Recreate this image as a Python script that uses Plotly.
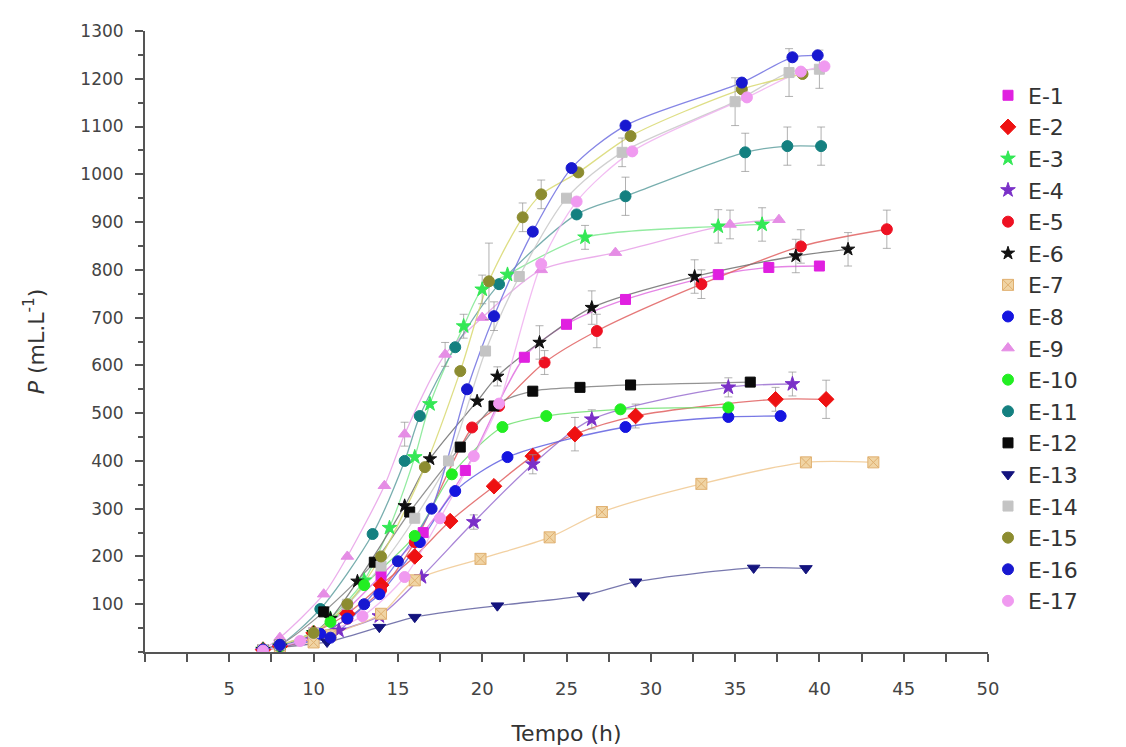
import plotly.graph_objects as go

names = ["E-1", "E-2", "E-3", "E-4", "E-5", "E-6", "E-7", "E-8", "E-9",
         "E-10", "E-11", "E-12", "E-13", "E-14", "E-15", "E-16", "E-17"]

t_e1 = [7, 8, 10, 12, 14, 16.5, 19, 22.5, 25, 28.5, 34, 37, 40]
p_e1 = [5, 10, 40, 90, 160, 250, 380, 617, 686, 738, 790, 805, 808]
t_e2 = [7, 8, 10, 12, 14, 16, 18.1, 20.7, 23, 25.5, 29.1, 37.4, 40.4]
p_e2 = [5, 12, 40, 80, 140, 200, 274, 347, 410, 456, 494, 529, 529]
t_e3 = [7, 8, 10, 11, 13, 14.5, 16, 16.9, 18.9, 20, 21.5, 26.1, 34, 36.6]
p_e3 = [5, 12, 40, 70, 150, 260, 408, 519, 682, 759, 790, 868, 891, 895]
t_e4 = [7, 8, 10, 11.5, 13.9, 16.4, 19.5, 23, 26.5, 34.6, 38.4]
p_e4 = [3, 10, 25, 45, 75, 157, 272, 393, 487, 554, 561]
t_e5 = [7, 8, 10, 12, 14, 16, 19.4, 21, 23.7, 26.8, 33, 38.9, 44]
p_e5 = [5, 10, 30, 70, 130, 230, 470, 515, 606, 672, 770, 849, 885]
t_e6 = [7, 8, 10, 11, 12.6, 15.4, 16.9, 19.7, 20.9, 23.4, 26.5, 32.6, 38.6, 41.7]
p_e6 = [5, 12, 40, 70, 148, 306, 404, 525, 577, 648, 721, 786, 829, 843]
t_e7 = [7, 8, 10, 11, 14, 16, 19.9, 24, 27.1, 33, 39.2, 43.2]
p_e7 = [3, 8, 20, 35, 80, 150, 195, 240, 293, 352, 397, 397]
t_e8 = [7, 8, 10.4, 12, 13.9, 16.3, 18.4, 21.5, 28.5, 34.6, 37.7]
p_e8 = [5, 15, 38, 70, 121, 230, 337, 408, 471, 492, 494]
t_e9 = [7, 8, 10.6, 12, 14.2, 15.4, 17.8, 20, 23.5, 27.9, 34.7, 37.6]
p_e9 = [5, 30, 121, 200, 348, 456, 623, 700, 800, 836, 895, 905]
t_e10 = [7, 8, 11, 13, 16, 18.2, 21.2, 23.8, 28.2, 34.6]
p_e10 = [5, 12, 63, 140, 243, 372, 471, 494, 508, 512]
t_e11 = [7, 8, 10.4, 13.5, 15.4, 16.3, 18.4, 21, 25.6, 28.5, 35.6, 38.1, 40.1]
p_e11 = [5, 15, 90, 247, 400, 494, 638, 770, 916, 954, 1046, 1059, 1059]
t_e12 = [7, 8, 10.6, 13.6, 15.7, 18.7, 20.7, 23, 25.8, 28.8, 35.9]
p_e12 = [5, 15, 84, 188, 293, 429, 515, 546, 554, 559, 565]
t_e13 = [8, 10.8, 13.9, 16, 20.9, 26, 29.1, 36.1, 39.2]
p_e13 = [10, 21, 52, 73, 97, 118, 147, 176, 175]
t_e14 = [7, 8, 10, 12, 14, 16, 18, 20.2, 22.2, 25, 28.3, 35, 38.2, 40]
p_e14 = [5, 15, 40, 100, 180, 280, 400, 630, 786, 950, 1046, 1152, 1213, 1220]
t_e15 = [7, 8, 10, 12, 14, 16.6, 18.7, 20.4, 22.4, 23.5, 25.7, 28.8, 35.4, 39]
p_e15 = [5, 15, 40, 100, 200, 387, 588, 776, 910, 958, 1004, 1080, 1178, 1210]
t_e16 = [7, 8, 11, 13, 15, 17, 19.1, 20.7, 23, 25.3, 28.5, 35.4, 38.4, 39.9]
p_e16 = [5, 15, 30, 100, 190, 300, 550, 703, 880, 1013, 1102, 1192, 1245, 1249]
t_e17 = [7, 9.2, 12.9, 15.4, 17.5, 19.5, 21, 23.5, 25.6, 28.9, 35.7, 38.9, 40.3]
p_e17 = [3, 23, 75, 157, 280, 410, 520, 812, 943, 1048, 1161, 1215, 1226]

err_e2 = [0, 0, 0, 0, 0, 0, 0, 0, 0, 35, 25, 25, 40]
err_e3 = [0, 0, 0, 0, 0, 0, 0, 0, 25, 30, 0, 25, 35, 35]
err_e4 = [0, 0, 0, 0, 0, 0, 15, 20, 20, 20, 25]
err_e5 = [0, 0, 0, 0, 0, 0, 0, 0, 25, 35, 30, 35, 40]
err_e6 = [0, 0, 0, 0, 0, 0, 0, 0, 20, 35, 35, 35, 35, 35]
err_e9 = [0, 0, 0, 0, 0, 25, 25, 0, 0, 0, 30, 0]
err_e11 = [0, 0, 0, 0, 0, 0, 0, 0, 0, 40, 40, 40, 40]
err_e14 = [0, 0, 0, 0, 0, 0, 0, 0, 0, 0, 30, 50, 50, 40]
err_e15 = [0, 0, 0, 0, 0, 0, 0, 80, 30, 30, 0, 0, 0, 0]
err_e16 = [0, 0, 0, 0, 0, 0, 0, 30, 0, 0, 0, 0, 0, 0]

times = [t_e1, t_e2, t_e3, t_e4, t_e5, t_e6, t_e7, t_e8, t_e9, t_e10, t_e11,
         t_e12, t_e13, t_e14, t_e15, t_e16, t_e17]
prods = [p_e1, p_e2, p_e3, p_e4, p_e5, p_e6, p_e7, p_e8, p_e9, p_e10, p_e11,
         p_e12, p_e13, p_e14, p_e15, p_e16, p_e17]
errs = [None, err_e2, err_e3, err_e4, err_e5, err_e6, None, None, err_e9, None,
        err_e11, None, None, err_e14, err_e15, err_e16, None]

colors = ["#e020e0", "#ee1111", "#33e855", "#7a30c8", "#ee1122", "#111111",
          "#f0d4a4", "#1515e0", "#e58de5", "#22ee22", "#148080", "#0a0a0a",
          "#14147e", "#c4c4c4", "#8c8c30", "#1818d0", "#f09af0"]
symbols = ["square", "diamond", "star", "star", "circle", "star", "square-x",
           "circle", "triangle-up", "circle", "circle", "square",
           "triangle-down", "square", "circle", "circle", "circle"]
sizes = [10, 12, 11, 11, 11, 10, 11, 11, 11, 11, 11, 10, 11, 10, 11, 11, 11]
line_colors = ["#e070e0", "#e06060", "#80e890", "#9a70d0", "#e06060", "#707070",
               "#f0c890", "#6060e0", "#e8a0e8", "#70e070", "#60a0a0", "#808080",
               "#6060a0", "#c8c8c8", "#d8d870", "#7070e0", "#f0b0f0"]

FONT = "DejaVu Sans, Verdana, sans-serif"


def rgba(hexc, a):
    h = hexc.lstrip("#")
    return "rgba(%d,%d,%d,%.2f)" % (int(h[0:2], 16), int(h[2:4], 16), int(h[4:6], 16), a)


fig = go.Figure()
# smooth fit-like curves (no legend entries)
for i, n in enumerate(names):
    fig.add_trace(go.Scatter(
        x=times[i], y=prods[i], mode="lines", showlegend=False, hoverinfo="skip",
        line=dict(color=rgba(line_colors[i], 0.85), width=1.3, shape="spline", smoothing=0.8),
    ))
# experimental points with error bars
for i, n in enumerate(names):
    err = errs[i]
    fig.add_trace(go.Scatter(
        x=times[i], y=prods[i], name=n, mode="markers", legendgroup=n,
        marker=dict(symbol=symbols[i], size=sizes[i], color=colors[i],
                    line=dict(color=colors[i] if symbols[i] != "square-x" else "#e0b070",
                              width=1)),
        error_y=dict(type="data", array=err, visible=err is not None,
                     color=rgba("#909090", 0.7), thickness=1, width=4),
    ))

fig.update_layout(
    width=1126, height=747,
    margin=dict(l=145, r=138, t=31, b=95),
    paper_bgcolor="white", plot_bgcolor="white",
    font=dict(family=FONT, color="#333333"),
    showlegend=True,
    legend=dict(x=1.0, y=0.93, xanchor="left", yanchor="top",
                font=dict(size=22, color="#333333", family=FONT), bgcolor="rgba(0,0,0,0)",
                tracegroupgap=0, itemwidth=30),
    xaxis=dict(range=[0, 50], tickmode="array", automargin=False,
               tickvals=[5, 10, 15, 20, 25, 30, 35, 40, 45, 50],
               ticks="outside", ticklen=8, tickwidth=1.5, tickcolor="#555555",
               showline=True, linecolor="#555555", linewidth=2,
               showgrid=False, zeroline=False, ticklabelstandoff=11,
               tickfont=dict(size=18, color="#444444", family=FONT),
               minor=dict(tickmode="linear", tick0=0, dtick=2.5, ticks="outside",
                          ticklen=8, tickcolor="#555555", showgrid=False),
               title=dict(text="Tempo (h)", font=dict(size=22, color="#333333", family=FONT),
                          standoff=28)),
    yaxis=dict(range=[0, 1300], tickmode="array", automargin=False,
               tickvals=[100, 200, 300, 400, 500, 600, 700, 800, 900, 1000, 1100, 1200, 1300],
               ticks="outside", ticklen=8, tickwidth=1.5, tickcolor="#555555",
               showline=True, linecolor="#555555", linewidth=2,
               showgrid=False, zeroline=False, ticklabelstandoff=8,
               tickfont=dict(size=17, color="#444444", family=FONT),
               minor=dict(tickmode="linear", tick0=0, dtick=50, ticks="outside",
                          ticklen=5, tickcolor="#555555", showgrid=False),
               title=dict(text="<i>P</i> (mL.L<sup>-1</sup>)",
                          font=dict(size=22, color="#333333", family=FONT), standoff=30)),
)

fig.write_html("out.html")
